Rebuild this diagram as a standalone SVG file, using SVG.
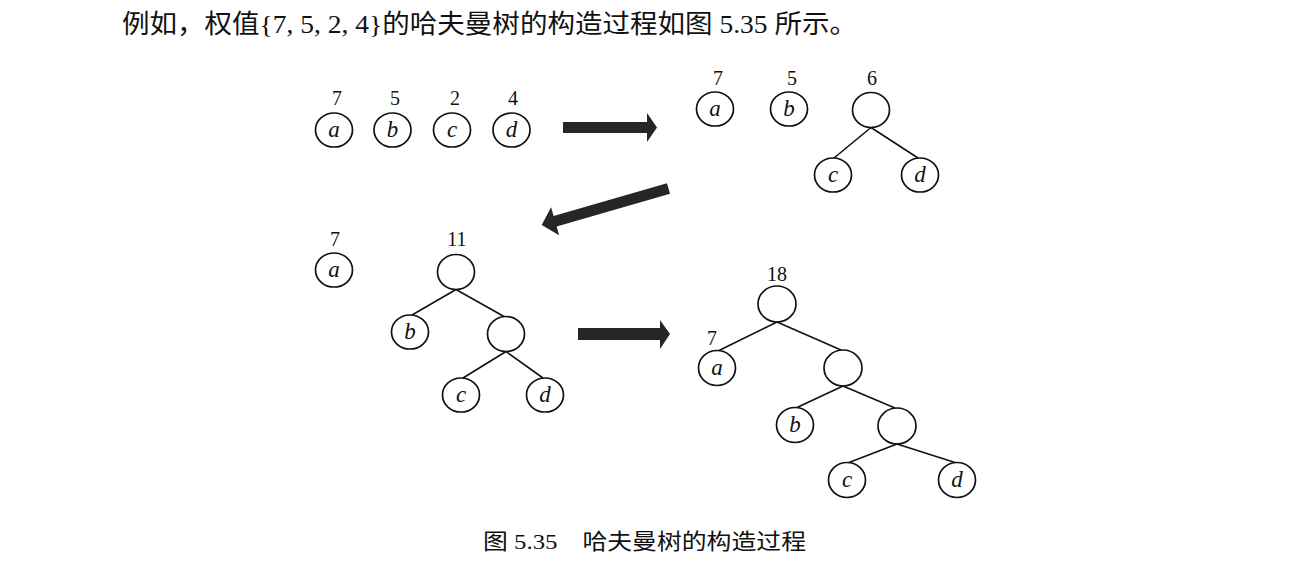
<svg xmlns="http://www.w3.org/2000/svg" width="1289" height="580" viewBox="0 0 1289 580">
<style>
.n{fill:none;stroke:#111;stroke-width:1.7}
.e{stroke:#111;stroke-width:1.6;fill:none}
.l{font-family:"Liberation Serif","Times New Roman",serif;font-style:italic;font-size:23px;fill:#111;text-anchor:middle}
.w{font-family:"Liberation Serif","Times New Roman",serif;font-size:20px;fill:#111;text-anchor:middle}
.t{font-family:"Noto Sans CJK SC",sans-serif;fill:#111}
.r{font-family:"Liberation Serif","Times New Roman",serif}
.ar{fill:#262626}
</style>
<rect width="1289" height="580" fill="#fff"/>
<text class="t" x="122" y="33" font-size="26" textLength="735" lengthAdjust="spacingAndGlyphs">例如，权值<tspan class="r">{7, 5, 2, 4}</tspan>的哈夫曼树的构造过程如图<tspan class="r"> 5.35 </tspan>所示。</text>

<!-- Stage 1 -->
<g id="s1a"><text class="w" x="337" y="105">7</text><ellipse class="n" cx="334" cy="130" rx="18.5" ry="17"/><text class="l" x="334" y="137">a</text></g>
<g id="s1b"><text class="w" x="395" y="105">5</text><ellipse class="n" cx="392.5" cy="130" rx="18.5" ry="17"/><text class="l" x="392.5" y="137">b</text></g>
<g id="s1c"><text class="w" x="455" y="105">2</text><ellipse class="n" cx="452" cy="130" rx="18.5" ry="17"/><text class="l" x="452" y="137">c</text></g>
<g id="s1d"><text class="w" x="513" y="105">4</text><ellipse class="n" cx="511.5" cy="130" rx="18.5" ry="17"/><text class="l" x="511.5" y="137">d</text></g>

<!-- Stage 2 -->
<g id="s2a"><text class="w" x="718" y="85">7</text><ellipse class="n" cx="715" cy="109" rx="18.5" ry="17"/><text class="l" x="715" y="116">a</text></g>
<g id="s2b"><text class="w" x="792" y="85">5</text><ellipse class="n" cx="789" cy="109" rx="18.5" ry="17"/><text class="l" x="789" y="116">b</text></g>
<g id="s2r"><text class="w" x="872" y="85">6</text><ellipse class="n" cx="871" cy="110" rx="18.5" ry="17.5"/></g>
<g id="s2c"><ellipse class="n" cx="833" cy="175" rx="18.5" ry="17"/><text class="l" x="833" y="182">c</text></g>
<g id="s2d"><ellipse class="n" cx="920" cy="175" rx="18.5" ry="17"/><text class="l" x="920" y="182">d</text></g>

<!-- Stage 3 -->
<g id="s3a"><text class="w" x="335" y="246">7</text><ellipse class="n" cx="334" cy="270" rx="18.5" ry="17"/><text class="l" x="334" y="277">a</text></g>
<g id="s3r"><text class="w" x="457" y="246">11</text><ellipse class="n" cx="456" cy="272" rx="18.5" ry="17.5"/></g>
<g id="s3b"><ellipse class="n" cx="410" cy="332" rx="18.5" ry="17"/><text class="l" x="410" y="339">b</text></g>
<g id="s3i"><ellipse class="n" cx="506" cy="334" rx="18.5" ry="17.5"/></g>
<g id="s3c"><ellipse class="n" cx="461" cy="395" rx="18.5" ry="17"/><text class="l" x="461" y="402">c</text></g>
<g id="s3d"><ellipse class="n" cx="545" cy="395" rx="18.5" ry="17"/><text class="l" x="545" y="402">d</text></g>

<!-- Stage 4 -->
<g id="s4r"><text class="w" x="777" y="281">18</text><ellipse class="n" cx="777" cy="304" rx="19" ry="18"/></g>
<g id="s4a"><text class="w" x="712" y="345">7</text><ellipse class="n" cx="717" cy="368" rx="18.5" ry="17.5"/><text class="l" x="717" y="375">a</text></g>
<g id="s4i1"><ellipse class="n" cx="843" cy="368" rx="19" ry="18"/></g>
<g id="s4b"><ellipse class="n" cx="795" cy="425" rx="18.5" ry="17.5"/><text class="l" x="795" y="432">b</text></g>
<g id="s4i2"><ellipse class="n" cx="897" cy="426" rx="19" ry="18"/></g>
<g id="s4c"><ellipse class="n" cx="847" cy="480" rx="18.5" ry="17.5"/><text class="l" x="847" y="487">c</text></g>
<g id="s4d"><ellipse class="n" cx="957" cy="480" rx="18.5" ry="17.5"/><text class="l" x="957" y="487">d</text></g>

<g id="connectors">
<line class="e" x1="871" y1="127.5" x2="834" y2="158"/>
<line class="e" x1="871" y1="127.5" x2="918" y2="158"/>
<line class="e" x1="456" y1="289.5" x2="412" y2="315"/>
<line class="e" x1="456" y1="289.5" x2="504" y2="316.5"/>
<line class="e" x1="506" y1="351.5" x2="463" y2="378"/>
<line class="e" x1="506" y1="351.5" x2="543" y2="378"/>
<line class="e" x1="777" y1="322" x2="719" y2="350.5"/>
<line class="e" x1="777" y1="322" x2="841" y2="350"/>
<line class="e" x1="843" y1="386" x2="797" y2="407.5"/>
<line class="e" x1="843" y1="386" x2="895" y2="408"/>
<line class="e" x1="897" y1="444" x2="849" y2="462.5"/>
<line class="e" x1="897" y1="444" x2="955" y2="462.5"/>
</g>

<g id="arrows">
<polygon class="ar" points="563,122 647,122 647,113 657,127.5 647,142 647,133 563,133"/>
<polygon class="ar" transform="translate(668.5,188.5) rotate(163.9)" points="0,-5.5 118,-5.5 118,-14.5 132,0 118,14.5 118,5.5 0,5.5"/>
<polygon class="ar" points="578,328 660,328 660,320 670,334 660,349 660,340 578,340"/>
</g>

<text class="t" x="483" y="549" font-size="22" textLength="323" lengthAdjust="spacingAndGlyphs">图<tspan class="r"> 5.35</tspan>　哈夫曼树的构造过程</text>
</svg>
